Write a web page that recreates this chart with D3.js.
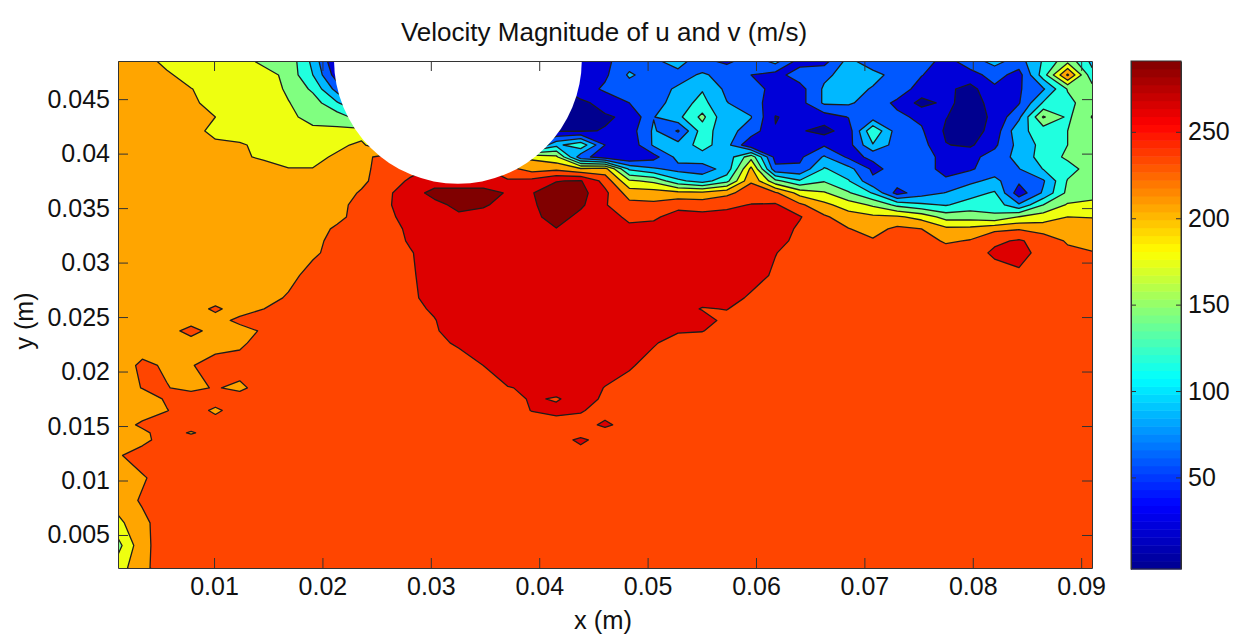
<!DOCTYPE html>
<html>
<head>
<meta charset="utf-8">
<script src="https://cdn.jsdelivr.net/npm/d3@7"></script>
<style>
  html, body { margin: 0; background: #fff; }
  text { font-family: "Liberation Sans", Arial, sans-serif; fill: #111; }
</style>
</head>
<body>
<svg id="chart" width="1247" height="639"></svg>
<script>
const xTicks = [0.01, 0.02, 0.03, 0.04, 0.05, 0.06, 0.07, 0.08, 0.09];
const yTicks = [0.005, 0.01, 0.015, 0.02, 0.025, 0.03, 0.035, 0.04, 0.045];
const barTicks = [50, 100, 150, 200, 250];
const xLimits = [0.00114, 0.091];
const yLimits = [0.00197, 0.0485];
const barLimits = [-3, 291];

// contour levels and the fill of the band above each one
const levels = [29, 55, 81, 107, 133, 159, 185, 211, 237, 263];
const bandColors = ["#0000d8", "#0058ff", "#00b8ff", "#20ffdf", "#80ff80", "#eeff10", "#ffa500", "#ff4500", "#dd0000", "#800000"];
const lowestColor = "#00008f";
const jetStops = ["#00008f", "#0000ff", "#00ffff", "#ffff00", "#ff0000", "#800000"];
const jetPositions = [0, 0.125, 0.375, 0.625, 0.875, 1];

// the cylinder sits on the top wall
const cylinderX = 0.0325;
const cylinderY = 0.0486;
const cylinderRadius = 0.01143;

// measurement rows (m), top to bottom; columns are evenly spaced
const gridY = [0.0485, 0.04722, 0.04593, 0.04465, 0.04336, 0.04208, 0.04079, 0.03969, 0.03859, 0.03749,
  0.03639, 0.03529, 0.03419, 0.03309, 0.03199, 0.03089, 0.02882, 0.02676, 0.02575, 0.02469, 0.02373, 0.02263,
  0.02056, 0.0185, 0.01749, 0.01643, 0.01511, 0.01437, 0.01373, 0.0123, 0.01024, 0.00817, 0.00611, 0.00404, 0.00199];

// speed (m/s), one line per row
const speed = [
  [198,198,176,172,172,172,150,150,100,25,20,20,20,20,20,20,20,20,25,40,50,68,75,95,60,50,65,90,45,45,90,60,60,68,45,70,90,70,110,150,100],
  [198,198,190,172,172,172,172,150,107,40,20,20,20,20,20,20,20,20,25,40,50,85,68,70,85,70,55,45,68,75,92,92,68,56,42,45,65,45,120,215,115],
  [198,198,198,186,172,172,172,155,128,70,30,25,25,25,25,25,25,25,25,40,60,68,70,85,105,75,68,45,45,85,95,78,68,45,35,20,50,52,78,135,145],
  [198,198,198,192,172,172,172,160,146,110,70,40,30,25,25,25,25,25,25,25,35,55,68,95,115,82,68,40,45,85,85,68,50,20,35,18,38,53,110,125,150],
  [198,198,198,198,185,172,172,165,150,146,120,80,50,30,25,25,25,25,25,20,27,32,80,100,140,84,82,28,35,42,56,68,60,50,30,15,35,75,162,128,160],
  [198,198,198,198,175,172,172,172,165,165,168,130,90,50,30,27,27,27,27,27,30,42,85,52,120,90,70,30,32,20,42,130,68,58,25,15,40,100,118,133,146],
  [198,198,198,198,192,188,178,172,172,178,192,150,120,80,50,40,40,45,100,125,55,35,85,90,118,90,32,40,50,52,45,105,68,65,30,25,50,90,115,133,146],
  [198,198,198,198,198,190,180,176,176,190,200,224,210,190,185,180,180,180,165,65,40,30,45,90,95,90,150,45,50,84,50,58,68,68,45,48,65,90,118,138,146],
  [198,198,198,198,198,198,198,186,186,198,203,224,230,240,240,240,220,200,205,190,195,102,85,72,70,90,192,62,60,110,90,50,62,68,45,52,68,80,108,122,146],
  [198,198,198,198,198,198,198,198,198,198,205,226,240,250,250,250,240,245,262,265,228,163,153,113,95,125,208,140,110,131,109,60,68,68,60,75,88,60,78,135,146],
  [198,198,198,198,198,198,198,198,198,198,214,232,250,272,272,272,261,262,275,272,243,199,197,193,192,204,225,215,175,162,136,105,45,70,82,97,110,40,85,140,150],
  [198,198,198,198,198,198,198,198,198,200,224,233,250,255,270,266,254,258,282,268,239,219,217,229,226,232,238,240,216,192,172,155,126,112,105,118,122,85,133,162,165],
  [198,198,198,198,198,198,198,198,198,203,224,228,250,250,258,254,250,255,275,255,250,231,233,247,245,245,248,250,239,215,197,190,189,176,148,148,138,160,172,185,184],
  [198,198,198,198,198,198,198,198,198,216,224,224,243,250,250,250,250,250,262,250,250,243,245,250,252,252,250,252,232,224,212,201,217,211,191,192,205,209,200,198,197],
  [198,198,198,198,198,198,198,198,200,224,224,224,240,250,250,250,250,250,250,250,250,250,250,250,252,252,250,250,226,224,224,214,224,224,207,213,232,240,226,208,205],
  [198,198,198,198,198,198,198,198,205,224,224,224,235,250,250,250,250,250,250,250,250,250,250,250,250,250,250,238,224,224,224,224,224,224,224,224,242,250,224,217,212],
  [198,198,198,198,198,198,198,200,224,224,224,224,233,250,250,250,250,250,250,250,250,250,250,250,250,250,250,232,224,224,224,224,224,224,224,224,224,230,224,224,224],
  [198,198,198,198,198,198,198,215,224,224,224,224,230,250,250,250,250,250,250,250,250,250,250,250,250,250,232,224,224,224,224,224,224,224,224,224,224,224,224,224,224],
  [198,198,198,198,216,198,211,224,224,224,224,224,231,240,250,250,250,250,250,250,250,250,250,250,235,238,224,224,224,224,224,224,224,224,224,224,224,224,224,224,224],
  [198,198,198,198,200,218,224,224,224,224,224,224,224,236,250,250,250,250,250,250,250,250,250,250,250,228,224,224,224,224,224,224,224,224,224,224,224,224,224,224,224],
  [198,198,198,222,198,200,215,224,224,224,224,224,224,234,250,250,250,250,250,250,250,250,250,240,238,224,224,224,224,224,224,224,224,224,224,224,224,224,224,224,224],
  [198,198,198,198,198,205,224,224,224,224,224,224,224,230,241,250,250,250,250,250,250,250,240,224,224,224,224,224,224,224,224,224,224,224,224,224,224,224,224,224,224],
  [198,216,208,209,224,224,224,224,224,224,224,224,224,224,224,237,250,250,250,250,250,241,224,224,224,224,224,224,224,224,224,224,224,224,224,224,224,224,224,224,224],
  [198,212,212,205,213,205,224,224,224,224,224,224,224,224,224,224,236,240,250,250,236,224,224,224,224,224,224,224,224,224,224,224,224,224,224,224,224,224,224,224,224],
  [198,198,214,224,224,224,224,224,224,224,224,224,224,224,224,224,224,241,234,250,232,224,224,224,224,224,224,224,224,224,224,224,224,224,224,224,224,224,224,224,224],
  [198,198,210,224,206,224,224,224,224,224,224,224,224,224,224,224,224,238,245,240,224,224,224,224,224,224,224,224,224,224,224,224,224,224,224,224,224,224,224,224,224],
  [198,216,224,224,224,224,224,224,224,224,224,224,224,224,224,224,224,224,224,224,243,224,224,224,224,224,224,224,224,224,224,224,224,224,224,224,224,224,224,224,224],
  [198,205,224,208,224,224,224,224,224,224,224,224,224,224,224,224,224,224,224,224,224,224,224,224,224,224,224,224,224,224,224,224,224,224,224,224,224,224,224,224,224],
  [198,203,224,224,224,224,224,224,224,224,224,224,224,224,224,224,224,224,224,243,224,224,224,224,224,224,224,224,224,224,224,224,224,224,224,224,224,224,224,224,224],
  [208,224,224,224,224,224,224,224,224,224,224,224,224,224,224,224,224,224,224,224,224,224,224,224,224,224,224,224,224,224,224,224,224,224,224,224,224,224,224,224,224],
  [200,208,224,224,224,224,224,224,224,224,224,224,224,224,224,224,224,224,224,224,224,224,224,224,224,224,224,224,224,224,224,224,224,224,224,224,224,224,224,224,224],
  [198,214,224,224,224,224,224,224,224,224,224,224,224,224,224,224,224,224,224,224,224,224,224,224,224,224,224,224,224,224,224,224,224,224,224,224,224,224,224,224,224],
  [178,205,224,224,224,224,224,224,224,224,224,224,224,224,224,224,224,224,224,224,224,224,224,224,224,224,224,224,224,224,224,224,224,224,224,224,224,224,224,224,224],
  [150,204,224,224,224,224,224,224,224,224,224,224,224,224,224,224,224,224,224,224,224,224,224,224,224,224,224,224,224,224,224,224,224,224,224,224,224,224,224,224,224],
  [172,205,224,224,224,224,224,224,224,224,224,224,224,224,224,224,224,224,224,224,224,224,224,224,224,224,224,224,224,224,224,224,224,224,224,224,224,224,224,224,224]
];

const plot = { left: 118, right: 1092, top: 61, bottom: 568 };
const bar = { left: 1131, right: 1181, top: 61, bottom: 569 };
const lineColor = "#1c1c1c";
const tickFont = 25;

const svg = d3.select("#chart");

const x = d3.scaleLinear().domain(xLimits).range([plot.left, plot.right]);
const y = d3.scaleLinear().domain(yLimits).range([plot.bottom, plot.top]);
const barY = d3.scaleLinear().domain(barLimits).range([bar.bottom, bar.top]);

// grid index to data position
const cols = speed[0].length;
const colToX = d3.scaleLinear().domain([0, cols - 1]).range(xLimits);
const rowToY = d3.scaleLinear().domain(d3.range(gridY.length)).range(gridY);

const gridTransform = d3.geoTransform({
  point(cx, cy) {
    this.stream.point(x(colToX(cx - 0.5)), y(rowToY(cy - 0.5)));
  }
});
const contourPath = d3.geoPath(gridTransform);

svg.append("clipPath").attr("id", "plot-clip")
  .append("rect")
  .attr("x", plot.left)
  .attr("y", plot.top)
  .attr("width", plot.right - plot.left)
  .attr("height", plot.bottom - plot.top);

const field = svg.append("g").attr("clip-path", "url(#plot-clip)");

field.append("rect")
  .attr("x", plot.left)
  .attr("y", plot.top)
  .attr("width", plot.right - plot.left)
  .attr("height", plot.bottom - plot.top)
  .attr("fill", lowestColor);

const contours = d3.contours()
  .size([cols, speed.length])
  .thresholds(levels)(speed.flat());

field.selectAll("path")
  .data(contours)
  .join("path")
  .attr("d", contourPath)
  .attr("fill", (d, i) => bandColors[i])
  .attr("stroke", lineColor)
  .attr("stroke-width", 1.3)
  .attr("stroke-linejoin", "round");

// white cylinder masks the field
const cylinderRx = x(cylinderX + cylinderRadius) - x(cylinderX);
field.append("ellipse")
  .attr("cx", x(cylinderX))
  .attr("cy", y(cylinderY))
  .attr("rx", cylinderRx)
  .attr("ry", cylinderRx)
  .attr("fill", "#fff");

function styleAxis(g) {
  g.selectAll(".domain").attr("stroke", "#333");
  g.selectAll(".tick line").attr("stroke", "#333");
  g.selectAll(".tick text").attr("font-size", tickFont).attr("fill", "#111");
}

// box axes with inward ticks
svg.append("g")
  .attr("transform", `translate(0,${plot.bottom})`)
  .call(d3.axisBottom(x).tickValues(xTicks).tickFormat(d => d).tickSizeInner(-10).tickSizeOuter(0).tickPadding(9))
  .call(styleAxis);
svg.append("g")
  .attr("transform", `translate(0,${plot.top})`)
  .call(d3.axisTop(x).tickValues(xTicks).tickFormat("").tickSizeInner(-10).tickSizeOuter(0))
  .call(styleAxis);
svg.append("g")
  .attr("transform", `translate(${plot.left},0)`)
  .call(d3.axisLeft(y).tickValues(yTicks).tickFormat(d => d).tickSizeInner(-10).tickSizeOuter(0).tickPadding(8))
  .call(styleAxis);
svg.append("g")
  .attr("transform", `translate(${plot.right},0)`)
  .call(d3.axisRight(y).tickValues(yTicks).tickFormat("").tickSizeInner(-10).tickSizeOuter(0))
  .call(styleAxis);

// colorbar, 64 flat steps like the jet map
const jet = d3.scaleLinear().domain(jetPositions).range(jetStops).interpolate(d3.interpolateRgb);
const barSteps = d3.range(64);
const barStep = (barLimits[1] - barLimits[0]) / barSteps.length;

svg.append("g")
  .selectAll("rect")
  .data(barSteps)
  .join("rect")
  .attr("x", bar.left)
  .attr("width", bar.right - bar.left)
  .attr("y", d => barY(barLimits[0] + (d + 1) * barStep))
  .attr("height", d => barY(barLimits[0] + d * barStep) - barY(barLimits[0] + (d + 1) * barStep) + 0.5)
  .attr("fill", d => jet((d + 0.5) / barSteps.length));

svg.append("g")
  .attr("transform", `translate(${bar.right},0)`)
  .call(d3.axisRight(barY).tickValues(barTicks).tickSizeInner(-5).tickSizeOuter(0).tickPadding(7))
  .call(styleAxis);
svg.append("g")
  .attr("transform", `translate(${bar.left},0)`)
  .call(d3.axisLeft(barY).tickValues(barTicks).tickFormat("").tickSizeInner(-5).tickSizeOuter(0))
  .call(styleAxis);
svg.append("rect")
  .attr("x", bar.left)
  .attr("y", bar.top)
  .attr("width", bar.right - bar.left)
  .attr("height", bar.bottom - bar.top)
  .attr("fill", "none")
  .attr("stroke", "#333");

// titles
svg.append("text")
  .attr("x", 604)
  .attr("y", 41)
  .attr("text-anchor", "middle")
  .attr("font-size", 26)
  .text("Velocity Magnitude of u and v (m/s)");
svg.append("text")
  .attr("x", 603)
  .attr("y", 629)
  .attr("text-anchor", "middle")
  .attr("font-size", 25.5)
  .text("x (m)");
svg.append("text")
  .attr("transform", "translate(33,321) rotate(-90)")
  .attr("text-anchor", "middle")
  .attr("font-size", 25)
  .text("y (m)");
</script>
</body>
</html>
